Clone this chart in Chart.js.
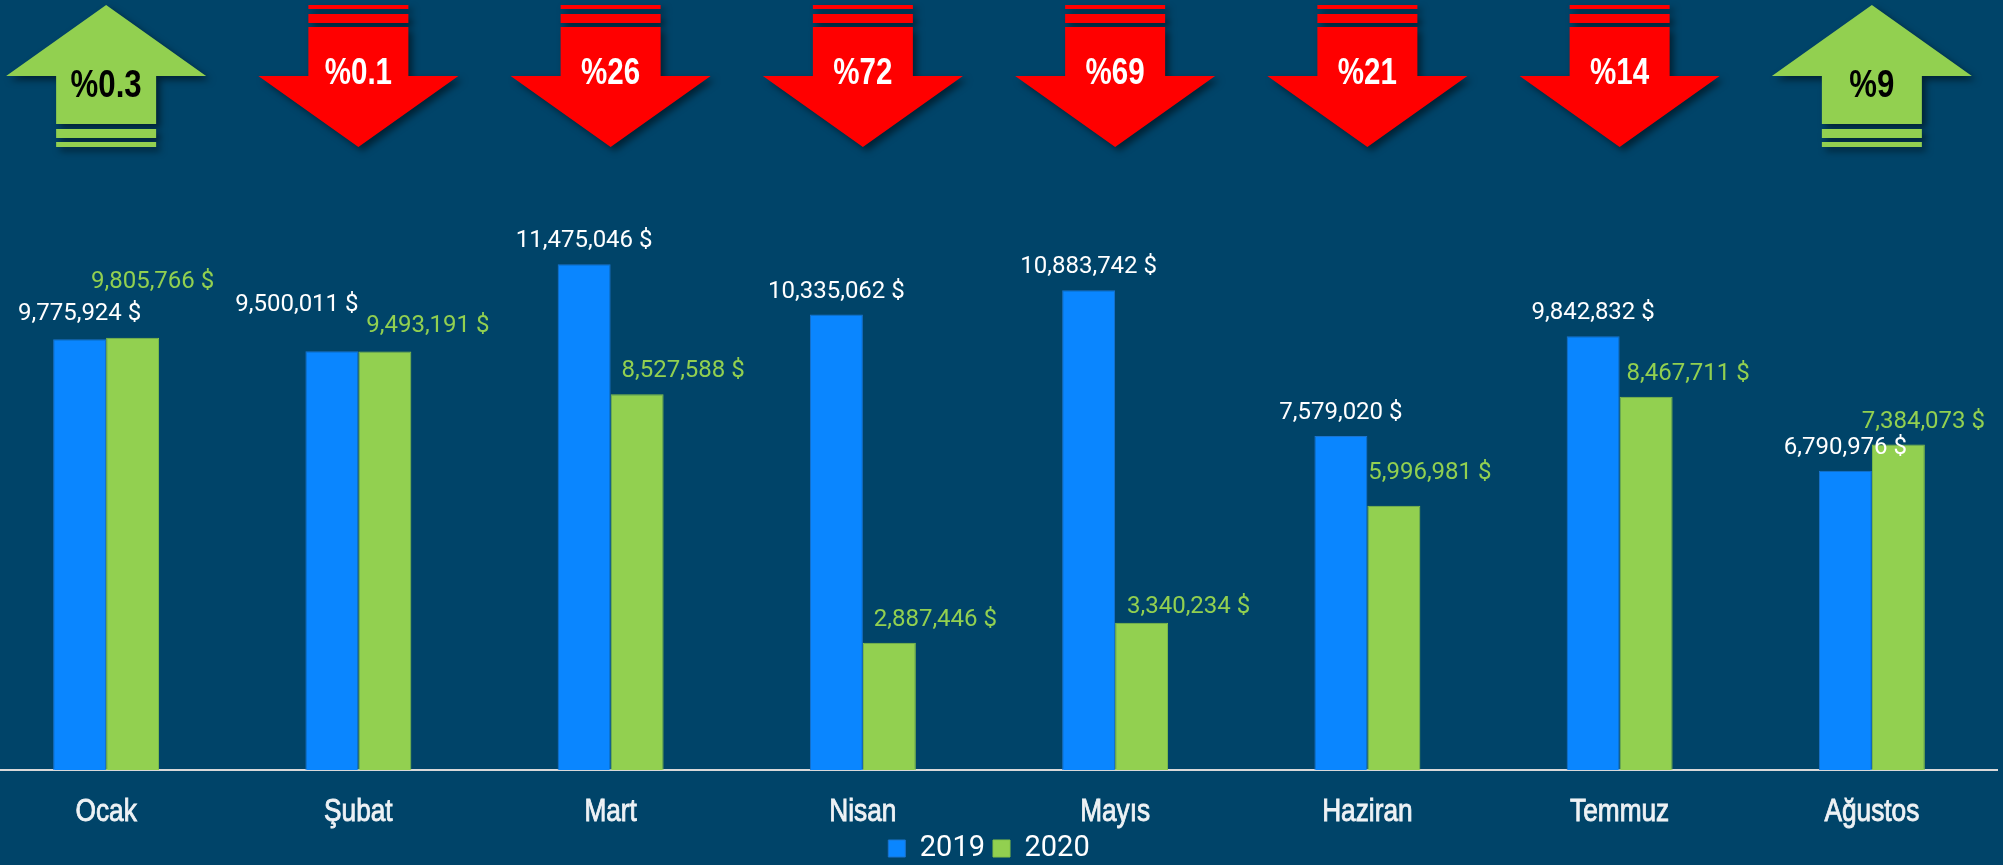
<!DOCTYPE html>
<html>
<head>
<meta charset="utf-8">
<script src="https://cdn.jsdelivr.net/npm/chart.js@4/dist/chart.umd.min.js"></script>
<style>
    html, body { margin: 0; padding: 0; background: #004469; overflow: hidden; width: 2003px; height: 865px; }
    #wrap { position: absolute; left: -20px; top: 0; width: 2018px; height: 873px; }
</style>
</head>
<body>
<div id="wrap"><canvas id="salesChart"></canvas></div>
<script>
// Aylar ve satış değerleri
const months = ['Ocak', 'Şubat', 'Mart', 'Nisan', 'Mayıs', 'Haziran', 'Temmuz', 'Ağustos'];
const sales2019 = [9775924, 9500011, 11475046, 10335062, 10883742, 7579020, 9842832, 6790976];
const sales2020 = [9805766, 9493191, 8527588, 2887446, 3340234, 5996981, 8467711, 7384073];
const changeLabels = ['%0.3', '%0.1', '%26', '%72', '%69', '%21', '%14', '%9'];

// Etiketlerin elle kaydırılmış konumları [dx, dy]
const shift2019 = [[0, -2], [-35, -23], [0, 0], [0, 0], [0, 0], [0, 0], [0, 0], [0, 0]];
const shift2020 = [[20, -33], [43, -3], [46, 0], [46, 0], [47, 7], [36, -10], [42, 0], [25, 0]];

const sans = '"Liberation Sans", Arial, sans-serif';
const BLUE = '#0a86ff';
const GREEN = '#92d050';

// Arial Narrow yok; Liberation Sans'ı yatayda sıkıştırarak çiz
function narrowText(ctx, text, x, y, font, color, stroke) {
    ctx.save();
    ctx.font = font;
    ctx.fillStyle = color;
    ctx.textAlign = 'center';
    ctx.textBaseline = 'alphabetic';
    ctx.translate(x, y);
    ctx.scale(0.82, 1);
    ctx.fillText(text, 0, 0);
    if (stroke) {
        ctx.strokeStyle = color;
        ctx.lineWidth = stroke;
        ctx.strokeText(text, 0, 0);
    }
    ctx.restore();
}

// --- Üstteki oklar ---
const arrowPlugin = {
    id: 'arrows',
    afterDraw: function (chart) {
        const ctx = chart.ctx;
        const x = chart.scales.x;
        months.forEach(function (m, i) {
            const cx = x.getPixelForValue(i);
            const up = sales2020[i] >= sales2019[i];
            ctx.save();
            ctx.shadowColor = 'rgba(0, 0, 0, 0.5)';
            ctx.shadowBlur = 7;
            ctx.shadowOffsetX = 4;
            ctx.shadowOffsetY = 4;
            ctx.fillStyle = up ? GREEN : '#ff0000';
            ctx.beginPath();
            if (up) {
                ctx.moveTo(cx, 5);
                ctx.lineTo(cx + 100, 76);
                ctx.lineTo(cx + 50, 76);
                ctx.lineTo(cx + 50, 124);
                ctx.lineTo(cx - 50, 124);
                ctx.lineTo(cx - 50, 76);
                ctx.lineTo(cx - 100, 76);
                ctx.closePath();
                ctx.fill();
                ctx.fillRect(cx - 50, 129, 100, 9);
                ctx.fillRect(cx - 50, 142, 100, 5);
            } else {
                ctx.fillRect(cx - 50, 5, 100, 4);
                ctx.fillRect(cx - 50, 14, 100, 9);
                ctx.moveTo(cx - 50, 27);
                ctx.lineTo(cx + 50, 27);
                ctx.lineTo(cx + 50, 76);
                ctx.lineTo(cx + 100, 76);
                ctx.lineTo(cx, 147);
                ctx.lineTo(cx - 100, 76);
                ctx.lineTo(cx - 50, 76);
                ctx.closePath();
                ctx.fill();
            }
            ctx.restore();

            if (up) {
                narrowText(ctx, changeLabels[i], cx, 97, 'bold 38px ' + sans, '#000000');
            } else {
                narrowText(ctx, changeLabels[i], cx, 84, 'bold 36px ' + sans, '#ffffff');
            }
        });
    }
};

// --- Ay etiketleri (x ekseni) ---
const monthLabelPlugin = {
    id: 'monthLabels',
    afterDraw: function (chart) {
        const x = chart.scales.x;
        months.forEach(function (m, i) {
            narrowText(chart.ctx, m, x.getPixelForValue(i), 821, '32px ' + sans, '#eef2f5', 0.9);
        });
    }
};

// --- Çubuk üstü değer etiketleri ---
const valuePlugin = {
    id: 'values',
    afterDatasetsDraw: function (chart) {
        const ctx = chart.ctx;
        ctx.save();
        ctx.font = '24px Roboto, sans-serif';
        ctx.textAlign = 'center';
        ctx.textBaseline = 'middle';
        chart.data.datasets.forEach(function (ds, d) {
            const meta = chart.getDatasetMeta(d);
            const shifts = d === 0 ? shift2019 : shift2020;
            ctx.fillStyle = d === 0 ? '#ffffff' : GREEN;
            meta.data.forEach(function (bar, i) {
                const text = ds.data[i].toLocaleString('en-US') + ' $';
                ctx.fillText(text, bar.x + shifts[i][0], bar.y - 23 + shifts[i][1]);
            });
        });
        ctx.restore();
    }
};

new Chart(document.getElementById('salesChart').getContext('2d'), {
    type: 'bar',
    data: {
        labels: months,
        datasets: [{
            label: '2019',
            data: sales2019,
            backgroundColor: BLUE,
            borderColor: '#1a74d0',
            borderWidth: 1,
            categoryPercentage: 0.42,
            barPercentage: 1.0
        }, {
            label: '2020',
            data: sales2020,
            backgroundColor: GREEN,
            borderColor: '#84c247',
            borderWidth: 1,
            categoryPercentage: 0.42,
            barPercentage: 1.0
        }]
    },
    options: {
        responsive: true,
        maintainAspectRatio: false,
        animation: false,
        layout: { padding: { top: 153, left: 0, right: 0, bottom: 0 } },
        scales: {
            x: {
                grid: { display: false, drawTicks: false },
                border: { display: true, color: '#d9d9d9', width: 2 },
                ticks: { display: false },
                afterFit: function (scale) {
                    const legendH = scale.chart.legend ? scale.chart.legend.height : 0;
                    scale.height = scale.chart.height - 770 - legendH;
                }
            },
            y: {
                display: false,
                min: 0,
                max: 14000000
            }
        },
        plugins: {
            legend: {
                position: 'bottom',
                labels: {
                    color: '#ffffff',
                    boxWidth: 17,
                    boxHeight: 17,
                    padding: 8,
                    font: { family: 'Roboto, sans-serif', size: 29 }
                }
            },
            tooltip: { enabled: false }
        }
    },
    plugins: [arrowPlugin, monthLabelPlugin, valuePlugin]
});
</script>
</body>
</html>
